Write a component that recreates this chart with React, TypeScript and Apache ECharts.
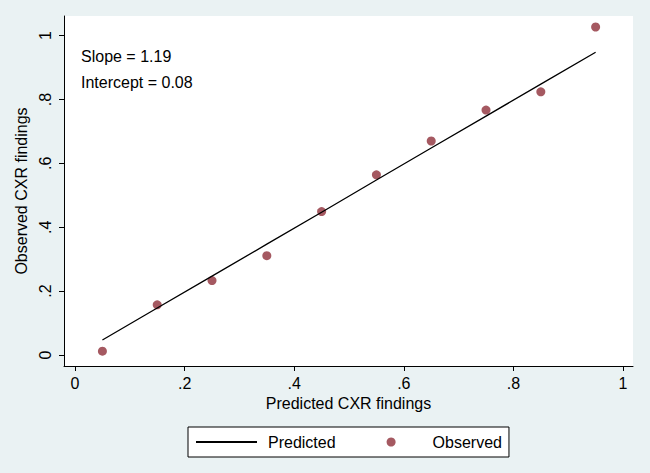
import React, { useEffect, useRef } from "react";
import * as echarts from "echarts";

const xValues = [0.05, 0.15, 0.25, 0.35, 0.45, 0.55, 0.65, 0.75, 0.85, 0.95];
const predicted = [0.047, 0.147, 0.247, 0.347, 0.447, 0.548, 0.648, 0.748, 0.848, 0.948];
const observed = [0.012, 0.157, 0.233, 0.311, 0.449, 0.564, 0.67, 0.767, 0.824, 1.027];
const tickValues = [0, 0.2, 0.4, 0.6, 0.8, 1];
const xTitle = "Predicted CXR findings";
const yTitle = "Observed CXR findings";
const annotations = ["Slope = 1.19", "Intercept = 0.08"];

const FONT = "'Liberation Sans', Arial, Helvetica, sans-serif";
const fmt = (v: number) => {
  if (v === 0) return "0";
  if (v === 1) return "1";
  return String(Math.round(v * 10) / 10).replace(/^0\./, ".");
};

export default function App() {
  const ref = useRef<HTMLDivElement>(null);
  useEffect(() => {
    if (!ref.current) return;
    const chart = echarts.init(ref.current, undefined, { renderer: "svg" });
    chart.setOption({
      animation: false,
      backgroundColor: "#EAF2F3",
      textStyle: { fontFamily: FONT },
      grid: {
        left: 64,
        top: 16,
        width: 569,
        height: 350,
        show: true,
        backgroundColor: "#ffffff",
        borderWidth: 0,
      },
      xAxis: {
        type: "value",
        min: -0.0201,
        max: 1.0182,
        name: xTitle,
        nameLocation: "middle",
        nameGap: 26,
        nameTextStyle: { color: "#000", fontSize: 16, fontFamily: FONT },
        axisLine: { show: true, onZero: false, lineStyle: { color: "#000", width: 1 } },
        axisTick: { show: true, customValues: tickValues, length: 5, lineStyle: { color: "#000" } },
        axisLabel: {
          customValues: tickValues,
          formatter: fmt,
          color: "#000",
          fontSize: 16,
          fontFamily: FONT,
          margin: 9,
        },
        splitLine: { show: false },
      },
      yAxis: {
        type: "value",
        min: -0.0344,
        max: 1.0614,
        name: yTitle,
        nameLocation: "middle",
        nameGap: 28,
        nameRotate: 90,
        nameTextStyle: { color: "#000", fontSize: 16, fontFamily: FONT },
        axisLine: { show: true, onZero: false, lineStyle: { color: "#000", width: 1 } },
        axisTick: { show: true, customValues: tickValues, length: 5, lineStyle: { color: "#000" } },
        axisLabel: {
          customValues: tickValues,
          formatter: fmt,
          rotate: 90,
          color: "#000",
          fontSize: 16,
          fontFamily: FONT,
          margin: 11,
        },
        splitLine: { show: false },
      },
      legend: {
        left: 188,
        top: 427,
        backgroundColor: "#ffffff",
        borderColor: "#000",
        borderWidth: 1,
        borderRadius: 0,
        padding: [7, 7, 7, 7],
        itemWidth: 61,
        itemHeight: 9,
        itemGap: 51,
        textStyle: { color: "#000", fontSize: 16, fontFamily: FONT, padding: [0, 0, 0, 6] },
        data: [
          { name: "Predicted" },
          { name: "Observed", icon: "circle" },
        ],
      },
      graphic: annotations.map((t, i) => ({
        type: "text",
        x: 81,
        y: 56 + i * 26,
        style: {
          text: t,
          fill: "#000",
          font: "16px 'Liberation Sans', Arial, sans-serif",
          fontSize: 16,
          fontFamily: FONT,
          verticalAlign: "middle",
          align: "left",
        },
      })),
      series: [
        {
          name: "Predicted",
          type: "line",
          data: xValues.map((x, i) => [x, predicted[i]]),
          symbol: "none",
          lineStyle: { color: "#000", width: 1.3 },
          itemStyle: { color: "rgba(0,0,0,0)" },
        },
        {
          name: "Observed",
          type: "scatter",
          data: xValues.map((x, i) => [x, observed[i]]),
          symbol: "circle",
          symbolSize: 9,
          itemStyle: { color: "#8E2F39" },
        },
      ],
    });
    return () => chart.dispose();
  }, []);
  return <div ref={ref} style={{ width: 650, height: 473, position: "absolute", left: 0, top: 0 }} />;
}
